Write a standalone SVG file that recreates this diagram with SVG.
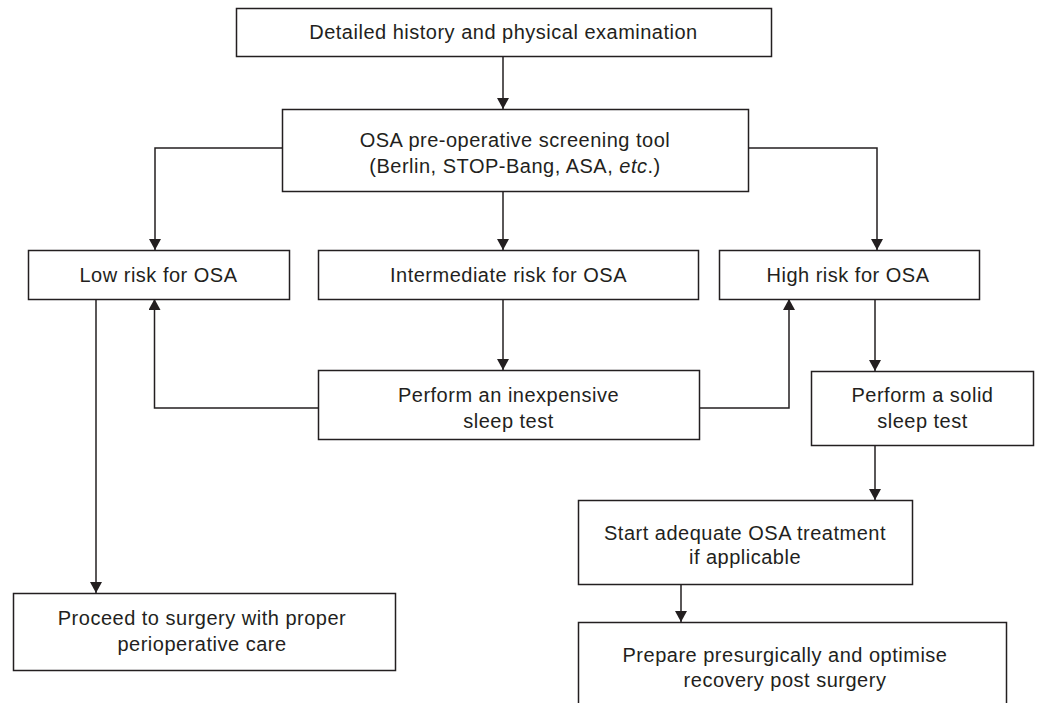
<svg xmlns="http://www.w3.org/2000/svg" width="1038" height="703" viewBox="0 0 1038 703">
<style>
.box{fill:#fff;stroke:#231f20;stroke-width:1.5}
.t{font-family:"Liberation Sans",Arial,sans-serif;font-size:20px;letter-spacing:0.5px;fill:#231f20;text-anchor:middle}
.c{fill:none;stroke:#231f20;stroke-width:1.5;marker-end:url(#ah)}
</style>
<defs>
<marker id="ah" viewBox="0 0 11 12" refX="11" refY="6" markerWidth="11" markerHeight="12" markerUnits="userSpaceOnUse" orient="auto">
<path d="M0,0 L11,6 L0,12 z" fill="#231f20"/>
</marker>
</defs>
<rect width="1038" height="703" fill="#fff"/>
<g id="connectors">
<path class="c" d="M503,56 V109"/>
<path class="c" d="M282,148 H155 V250"/>
<path class="c" d="M503,192 V250"/>
<path class="c" d="M748,148 H877 V250"/>
<path class="c" d="M503,299 V370"/>
<path class="c" d="M318,408 H154.5 V299"/>
<path class="c" d="M699,408 H789 V299"/>
<path class="c" d="M96,299 V593"/>
<path class="c" d="M875,299 V371"/>
<path class="c" d="M875,445 V500"/>
<path class="c" d="M681,585 V622"/>
</g>
<g id="n-history">
<rect class="box" x="236.5" y="8.5" width="535" height="48"/>
<text class="t" x="503.5" y="39">Detailed history and physical examination</text>
</g>
<g id="n-screening">
<rect class="box" x="282.5" y="109.5" width="466" height="82"/>
<text class="t" x="515" y="147">OSA pre-operative screening tool</text>
<text class="t" x="515" y="173">(Berlin, STOP-Bang, ASA, <tspan font-style="italic">etc</tspan>.)</text>
</g>
<g id="n-low">
<rect class="box" x="28.5" y="250.5" width="261" height="49"/>
<text class="t" x="158.5" y="281.5">Low risk for OSA</text>
</g>
<g id="n-intermediate">
<rect class="box" x="318.5" y="250.5" width="380" height="49"/>
<text class="t" x="508.5" y="281.5">Intermediate risk for OSA</text>
</g>
<g id="n-high">
<rect class="box" x="719.5" y="250.5" width="260" height="49"/>
<text class="t" x="848" y="281.5">High risk for OSA</text>
</g>
<g id="n-inexpensive">
<rect class="box" x="318.5" y="370.5" width="381" height="69"/>
<text class="t" x="508.5" y="402">Perform an inexpensive</text>
<text class="t" x="508.5" y="427.5">sleep test</text>
</g>
<g id="n-solid">
<rect class="box" x="811.5" y="371.5" width="222" height="74"/>
<text class="t" x="922.5" y="402">Perform a solid</text>
<text class="t" x="922.5" y="427.5">sleep test</text>
</g>
<g id="n-treatment">
<rect class="box" x="578.5" y="500.5" width="334" height="84"/>
<text class="t" x="745" y="539.5">Start adequate OSA treatment</text>
<text class="t" x="745" y="564">if applicable</text>
</g>
<g id="n-proceed">
<rect class="box" x="13.5" y="593.5" width="382" height="77"/>
<text class="t" x="202" y="624.5">Proceed to surgery with proper</text>
<text class="t" x="202" y="650.5">perioperative care</text>
</g>
<g id="n-prepare">
<rect class="box" x="578.5" y="622.5" width="428" height="100"/>
<text class="t" x="785" y="661.5">Prepare presurgically and optimise</text>
<text class="t" x="785" y="686.5">recovery post surgery</text>
</g>
</svg>
